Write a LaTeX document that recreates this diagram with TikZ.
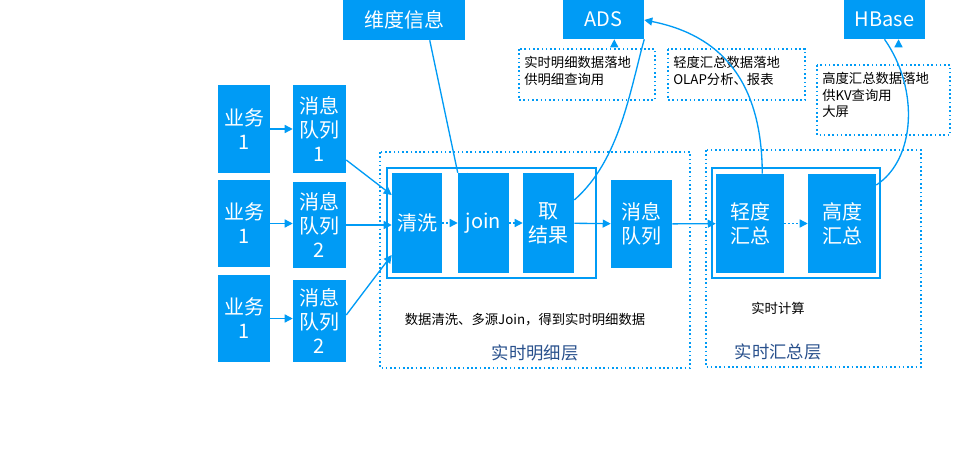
\documentclass[tikz,border=0pt]{standalone}
\usepackage{fontspec}
\setmainfont{Noto Sans CJK SC}
\usetikzlibrary{arrows.meta}
\definecolor{bb}{RGB}{0,155,245}
\definecolor{lab}{RGB}{40,80,140}
\tikzset{
 px/.style={x=0.75pt,y=-0.75pt},
 blk/.style={fill=bb,text=white,font=\fontsize{15}{18}\selectfont,align=center,inner sep=0pt},
 dot/.style={draw=bb,dotted,line width=1.2pt},
 frame/.style={draw=bb,line width=1.3pt},
 arr/.style={draw=bb,line width=1pt,-{Triangle[length=6pt,width=6pt]}},
 darr/.style={arr,dotted},
 note/.style={font=\fontsize{10}{12.5}\selectfont,align=left,anchor=north west,inner sep=0pt},
}
\newcommand{\bx}[6]{\node[blk,minimum width=#4*0.75pt-#2*0.75pt,minimum height=#5*0.75pt-#3*0.75pt] (#1) at ({(#2+#4)/2},{(#3+#5)/2}) {#6};}
\begin{document}
\begin{tikzpicture}[px]
\useasboundingbox (0,0) rectangle (955,474);
% dotted frames
\draw[dot] (380,152) rectangle (690,368);
\draw[dot] (706,150) rectangle (921,367);
\draw[dot] (519,49) rectangle (655,100);
\draw[dot] (668,49) rectangle (805,100);
\draw[dot] (817,65) rectangle (950,135);
\draw[frame] (387,168) rectangle (596,278);
\draw[frame] (712,168) rectangle (880,278);
% left
\bx{y1}{218}{85}{270}{173}{业务\\1}
\bx{y2}{218}{180}{270}{267}{业务\\1}
\bx{y3}{218}{275}{270}{362}{业务\\1}
\bx{q1}{293}{85}{346}{173}{消息\\队列\\1}
\bx{q2}{293}{182}{346}{268}{消息\\队列\\2}
\bx{q3}{293}{280}{346}{362}{消息\\队列\\2}
\bx{qx}{392}{173}{442}{273}{清洗}
\bx{jn}{458}{173}{509}{273}{join}
\bx{qj}{523}{173}{574}{273}{取\\结果}
\bx{mq}{611}{180}{672}{268}{消息\\队列}
\bx{qd}{716}{174}{784}{273}{轻度\\汇总}
\bx{gd}{808}{174}{876}{273}{高度\\汇总}
\bx{wd}{343}{0}{465}{40}{维度信息}
\bx{ads}{563}{0}{644}{39}{ADS}
\bx{hb}{844}{0}{925}{39}{HBase}
% notes
\node[note] at (524,56) {实时明细数据落地\\供明细查询用};
\node[note] at (673,56) {轻度汇总数据落地\\OLAP分析、报表};
\node[note] at (822,72) {高度汇总数据落地\\供KV查询用\\大屏};
\node[font=\fontsize{10}{12}\selectfont] (t1) at (525,320) {数据清洗、多源Join，得到实时明细数据};
\node[font=\fontsize{13}{15}\selectfont,text=lab] (t2) at (535,353) {实时明细层};
\node[font=\fontsize{10}{12}\selectfont] (t3) at (778,308) {实时计算};
\node[font=\fontsize{13}{15}\selectfont,text=lab] (t4) at (778,352) {实时汇总层};
% arrows
\draw[arr] (y1) -- (q1);
\draw[arr] (y2.east) -- (q2.west|-y2.east);
\draw[arr] (y3.east) -- (q3.west|-y3.east);
\draw[arr] (q1.east|-0,160) -- (qx.west|-0,195);
\draw[arr] (q2.east|-0,225) -- (qx.west|-0,225);
\draw[arr] (q3.east|-0,315) -- (qx.west|-0,255);
\draw[darr] (qx) -- (jn);
\draw[darr] (jn) -- (qj);
\draw[arr] (qj) -- (mq);
\draw[arr] (mq) -- (qd);
\draw[darr] (qd) -- (gd);
\draw[arr] (wd.south west)++(87,0) -- (jn.north west)++(10,0);
\draw[arr] (qj.east|-0,200) .. controls (620,160) and (630,90) .. (ads.south east)++(-30,0);
\draw[arr] (qd.north east)++(-22,0) .. controls (762,80) and (720,35) .. (ads.east|-0,20);
\draw[arr] (gd.east|-0,185) .. controls (915,160) and (920,90) .. (hb.south)++(14,0);
\end{tikzpicture}
\end{document}
